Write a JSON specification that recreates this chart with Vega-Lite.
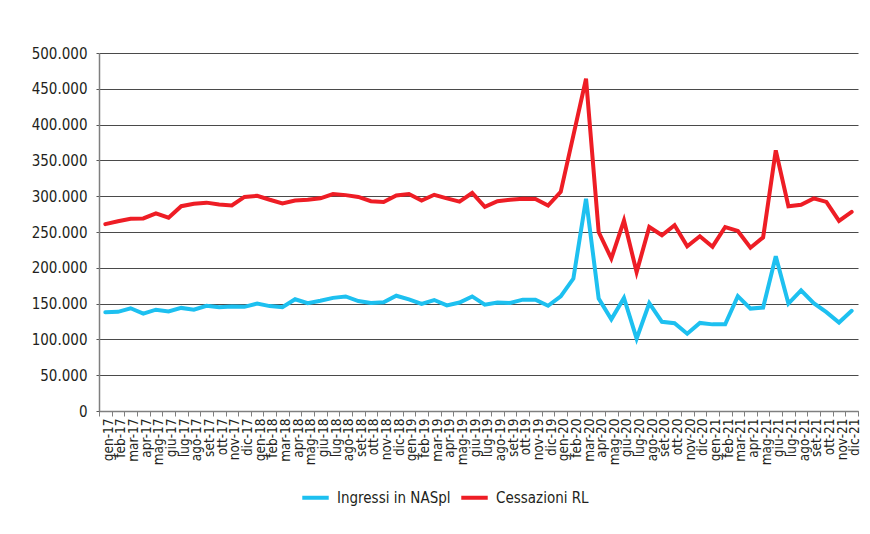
{
  "$schema": "https://vega.github.io/schema/vega-lite/v6.json",
  "width": 759,
  "height": 358,
  "autosize": {"type": "none"},
  "padding": {"left": 99, "top": 53, "right": 12, "bottom": 123},
  "background": "white",
  "config": {
    "font": "DejaVu Sans Condensed",
    "locale": {"number": {"decimal": ",", "thousands": ".", "grouping": [3], "currency": ["€", ""]}},
    "view": {"stroke": null},
    "axis": {"labelColor": "#231F20", "labelFont": "DejaVu Sans Condensed"},
    "legend": {"labelFont": "DejaVu Sans Condensed"}
  },
  "data": {
    "values": [
      {"m": "gen-17", "s": "Ingressi in NASpl", "v": 138000},
      {"m": "feb-17", "s": "Ingressi in NASpl", "v": 138500},
      {"m": "mar-17", "s": "Ingressi in NASpl", "v": 143500},
      {"m": "apr-17", "s": "Ingressi in NASpl", "v": 136000},
      {"m": "mag-17", "s": "Ingressi in NASpl", "v": 141500},
      {"m": "giu-17", "s": "Ingressi in NASpl", "v": 139000},
      {"m": "lug-17", "s": "Ingressi in NASpl", "v": 144000},
      {"m": "ago-17", "s": "Ingressi in NASpl", "v": 141500},
      {"m": "set-17", "s": "Ingressi in NASpl", "v": 147000},
      {"m": "ott-17", "s": "Ingressi in NASpl", "v": 145000},
      {"m": "nov-17", "s": "Ingressi in NASpl", "v": 146000},
      {"m": "dic-17", "s": "Ingressi in NASpl", "v": 145500},
      {"m": "gen-18", "s": "Ingressi in NASpl", "v": 150000},
      {"m": "feb-18", "s": "Ingressi in NASpl", "v": 146500},
      {"m": "mar-18", "s": "Ingressi in NASpl", "v": 145000},
      {"m": "apr-18", "s": "Ingressi in NASpl", "v": 156000},
      {"m": "mag-18", "s": "Ingressi in NASpl", "v": 150500},
      {"m": "giu-18", "s": "Ingressi in NASpl", "v": 154000},
      {"m": "lug-18", "s": "Ingressi in NASpl", "v": 158000},
      {"m": "ago-18", "s": "Ingressi in NASpl", "v": 160000},
      {"m": "set-18", "s": "Ingressi in NASpl", "v": 153500},
      {"m": "ott-18", "s": "Ingressi in NASpl", "v": 151000},
      {"m": "nov-18", "s": "Ingressi in NASpl", "v": 152000},
      {"m": "dic-18", "s": "Ingressi in NASpl", "v": 161000},
      {"m": "gen-19", "s": "Ingressi in NASpl", "v": 156000},
      {"m": "feb-19", "s": "Ingressi in NASpl", "v": 149500},
      {"m": "mar-19", "s": "Ingressi in NASpl", "v": 155000},
      {"m": "apr-19", "s": "Ingressi in NASpl", "v": 147500},
      {"m": "mag-19", "s": "Ingressi in NASpl", "v": 151500},
      {"m": "giu-19", "s": "Ingressi in NASpl", "v": 160000},
      {"m": "lug-19", "s": "Ingressi in NASpl", "v": 148500},
      {"m": "ago-19", "s": "Ingressi in NASpl", "v": 151500},
      {"m": "set-19", "s": "Ingressi in NASpl", "v": 151000},
      {"m": "ott-19", "s": "Ingressi in NASpl", "v": 155500},
      {"m": "nov-19", "s": "Ingressi in NASpl", "v": 155500},
      {"m": "dic-19", "s": "Ingressi in NASpl", "v": 147000},
      {"m": "gen-20", "s": "Ingressi in NASpl", "v": 160000},
      {"m": "feb-20", "s": "Ingressi in NASpl", "v": 185000},
      {"m": "mar-20", "s": "Ingressi in NASpl", "v": 296500},
      {"m": "apr-20", "s": "Ingressi in NASpl", "v": 157000},
      {"m": "mag-20", "s": "Ingressi in NASpl", "v": 128000},
      {"m": "giu-20", "s": "Ingressi in NASpl", "v": 158000},
      {"m": "lug-20", "s": "Ingressi in NASpl", "v": 101000},
      {"m": "ago-20", "s": "Ingressi in NASpl", "v": 150500},
      {"m": "set-20", "s": "Ingressi in NASpl", "v": 124500},
      {"m": "ott-20", "s": "Ingressi in NASpl", "v": 122500},
      {"m": "nov-20", "s": "Ingressi in NASpl", "v": 108000},
      {"m": "dic-20", "s": "Ingressi in NASpl", "v": 123000},
      {"m": "gen-21", "s": "Ingressi in NASpl", "v": 121000},
      {"m": "feb-21", "s": "Ingressi in NASpl", "v": 121000},
      {"m": "mar-21", "s": "Ingressi in NASpl", "v": 160500},
      {"m": "apr-21", "s": "Ingressi in NASpl", "v": 143000},
      {"m": "mag-21", "s": "Ingressi in NASpl", "v": 144500},
      {"m": "giu-21", "s": "Ingressi in NASpl", "v": 216000},
      {"m": "lug-21", "s": "Ingressi in NASpl", "v": 150000},
      {"m": "ago-21", "s": "Ingressi in NASpl", "v": 168500},
      {"m": "set-21", "s": "Ingressi in NASpl", "v": 150500},
      {"m": "ott-21", "s": "Ingressi in NASpl", "v": 138000},
      {"m": "nov-21", "s": "Ingressi in NASpl", "v": 123500},
      {"m": "dic-21", "s": "Ingressi in NASpl", "v": 140000},
      {"m": "gen-17", "s": "Cessazioni RL", "v": 261000},
      {"m": "feb-17", "s": "Cessazioni RL", "v": 265000},
      {"m": "mar-17", "s": "Cessazioni RL", "v": 268500},
      {"m": "apr-17", "s": "Cessazioni RL", "v": 269000},
      {"m": "mag-17", "s": "Cessazioni RL", "v": 276000},
      {"m": "giu-17", "s": "Cessazioni RL", "v": 270000},
      {"m": "lug-17", "s": "Cessazioni RL", "v": 286000},
      {"m": "ago-17", "s": "Cessazioni RL", "v": 289500},
      {"m": "set-17", "s": "Cessazioni RL", "v": 291000},
      {"m": "ott-17", "s": "Cessazioni RL", "v": 288500},
      {"m": "nov-17", "s": "Cessazioni RL", "v": 287000},
      {"m": "dic-17", "s": "Cessazioni RL", "v": 299000},
      {"m": "gen-18", "s": "Cessazioni RL", "v": 300500},
      {"m": "feb-18", "s": "Cessazioni RL", "v": 295000},
      {"m": "mar-18", "s": "Cessazioni RL", "v": 290000},
      {"m": "apr-18", "s": "Cessazioni RL", "v": 294000},
      {"m": "mag-18", "s": "Cessazioni RL", "v": 295000},
      {"m": "giu-18", "s": "Cessazioni RL", "v": 297000},
      {"m": "lug-18", "s": "Cessazioni RL", "v": 303000},
      {"m": "ago-18", "s": "Cessazioni RL", "v": 301500},
      {"m": "set-18", "s": "Cessazioni RL", "v": 299000},
      {"m": "ott-18", "s": "Cessazioni RL", "v": 293000},
      {"m": "nov-18", "s": "Cessazioni RL", "v": 292000},
      {"m": "dic-18", "s": "Cessazioni RL", "v": 301000},
      {"m": "gen-19", "s": "Cessazioni RL", "v": 303000},
      {"m": "feb-19", "s": "Cessazioni RL", "v": 294000},
      {"m": "mar-19", "s": "Cessazioni RL", "v": 302000},
      {"m": "apr-19", "s": "Cessazioni RL", "v": 297000},
      {"m": "mag-19", "s": "Cessazioni RL", "v": 292500},
      {"m": "giu-19", "s": "Cessazioni RL", "v": 304500},
      {"m": "lug-19", "s": "Cessazioni RL", "v": 285000},
      {"m": "ago-19", "s": "Cessazioni RL", "v": 293000},
      {"m": "set-19", "s": "Cessazioni RL", "v": 295000},
      {"m": "ott-19", "s": "Cessazioni RL", "v": 296500},
      {"m": "nov-19", "s": "Cessazioni RL", "v": 296000},
      {"m": "dic-19", "s": "Cessazioni RL", "v": 287000},
      {"m": "gen-20", "s": "Cessazioni RL", "v": 306000},
      {"m": "feb-20", "s": "Cessazioni RL", "v": 385000},
      {"m": "mar-20", "s": "Cessazioni RL", "v": 464000},
      {"m": "apr-20", "s": "Cessazioni RL", "v": 250000},
      {"m": "mag-20", "s": "Cessazioni RL", "v": 213000},
      {"m": "giu-20", "s": "Cessazioni RL", "v": 266000},
      {"m": "lug-20", "s": "Cessazioni RL", "v": 194000},
      {"m": "ago-20", "s": "Cessazioni RL", "v": 257000},
      {"m": "set-20", "s": "Cessazioni RL", "v": 245500},
      {"m": "ott-20", "s": "Cessazioni RL", "v": 259500},
      {"m": "nov-20", "s": "Cessazioni RL", "v": 230000},
      {"m": "dic-20", "s": "Cessazioni RL", "v": 244000},
      {"m": "gen-21", "s": "Cessazioni RL", "v": 229500},
      {"m": "feb-21", "s": "Cessazioni RL", "v": 257000},
      {"m": "mar-21", "s": "Cessazioni RL", "v": 251500},
      {"m": "apr-21", "s": "Cessazioni RL", "v": 228000},
      {"m": "mag-21", "s": "Cessazioni RL", "v": 242500},
      {"m": "giu-21", "s": "Cessazioni RL", "v": 364000},
      {"m": "lug-21", "s": "Cessazioni RL", "v": 286000},
      {"m": "ago-21", "s": "Cessazioni RL", "v": 288000},
      {"m": "set-21", "s": "Cessazioni RL", "v": 297000},
      {"m": "ott-21", "s": "Cessazioni RL", "v": 292000},
      {"m": "nov-21", "s": "Cessazioni RL", "v": 265500},
      {"m": "dic-21", "s": "Cessazioni RL", "v": 278000}
    ]
  },
  "mark": {"type": "line", "strokeWidth": 4, "strokeCap": "round", "strokeJoin": "miter"},
  "encoding": {
    "x": {
      "field": "m",
      "type": "ordinal",
      "sort": null,
      "bandPosition": 0.5,
      "scale": {"type": "band", "paddingInner": 0, "paddingOuter": 0},
      "axis": {
        "title": null,
        "labelAngle": -90,
        "labelFontSize": 13.5,
        "labelOverlap": false,
        "labelPadding": 2,
        "labelOffset": 3,
        "labelBound": false,
        "labelFlush": false,
        "tickBand": "extent",
        "tickSize": 5,
        "tickColor": "#7f7f7f",
        "domainColor": "#7f7f7f",
        "domainWidth": 1.5,
        "grid": false
      }
    },
    "y": {
      "field": "v",
      "type": "quantitative",
      "scale": {"domain": [0, 500000], "nice": false},
      "axis": {
        "title": null,
        "values": [0, 50000, 100000, 150000, 200000, 250000, 300000, 350000, 400000, 450000, 500000],
        "format": ",.0f",
        "labelFontSize": 15,
        "labelPadding": 9,
        "tickSize": 3,
        "tickColor": "#555555",
        "domainColor": "#7f7f7f",
        "domainWidth": 1.5,
        "grid": true,
        "gridColor": "#4a4a4a",
        "gridWidth": 1.2
      }
    },
    "color": {
      "field": "s",
      "type": "nominal",
      "sort": ["Ingressi in NASpl", "Cessazioni RL"],
      "scale": {"domain": ["Ingressi in NASpl", "Cessazioni RL"], "range": ["#1DC0F0", "#EE1D25"]},
      "legend": {
        "title": null,
        "orient": "none",
        "direction": "horizontal",
        "legendX": 201,
        "legendY": 429,
        "symbolType": "stroke",
        "symbolStrokeWidth": 4,
        "symbolSize": 700,
        "labelFontSize": 15,
        "labelColor": "#231F20",
        "labelOffset": 6,
        "columnPadding": 2
      }
    }
  }
}
